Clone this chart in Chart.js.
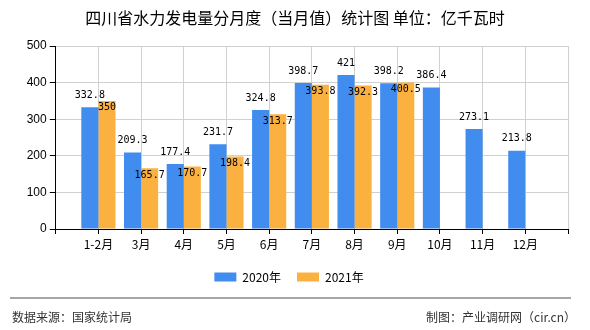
<!DOCTYPE html>
<html>
<head>
<meta charset="utf-8">
<script src="https://cdn.jsdelivr.net/npm/chart.js@4.4.0/dist/chart.umd.min.js"></script>
<style>
  html, body { margin: 0; padding: 0; background: #fff; }
  #wrap { position: relative; width: 590px; height: 330px; }
</style>
</head>
<body>
<div id="wrap"><canvas id="hydroChart" width="590" height="330"></canvas></div>
<script>
// 四川省水力发电量（亿千瓦时）
const categories = ['1-2月', '3月', '4月', '5月', '6月', '7月', '8月', '9月', '10月', '11月', '12月'];
const values2020 = [332.8, 209.3, 177.4, 231.7, 324.8, 398.7, 421, 398.2, 386.4, 273.1, 213.8];
const values2021 = [350, 165.7, 170.7, 198.4, 313.7, 393.8, 392.3, 400.5, null, null, null];
const seriesNames = ['2020年', '2021年'];
const yTicks = [0, 100, 200, 300, 400, 500];

const titleText = '四川省水力发电量分月度（当月值）统计图 单位：亿千瓦时';
const sourceText = '数据来源：国家统计局';
const makerText = '制图：产业调研网（cir.cn）';

const CJK = '"Noto Sans CJK SC", "DejaVu Sans", sans-serif';

// title, footer and value labels
const decorations = {
    id: 'decorations',
    beforeDraw(chart) {
        const ctx = chart.ctx;
        ctx.save();
        ctx.fillStyle = '#fff';
        ctx.fillRect(0, 0, chart.width, chart.height);
        ctx.restore();
    },
    afterDraw(chart) {
        const ctx = chart.ctx;
        ctx.save();
        ctx.fillStyle = '#000';
        ctx.font = '16px ' + CJK;
        ctx.textAlign = 'center';
        ctx.textBaseline = 'middle';
        ctx.fillText(titleText, 295, 18);

        ctx.strokeStyle = '#888';
        ctx.lineWidth = 1.5;
        ctx.beginPath();
        ctx.moveTo(10, 298);
        ctx.lineTo(571, 298);
        ctx.stroke();

        ctx.fillStyle = '#333';
        ctx.font = '12px ' + CJK;
        ctx.textAlign = 'left';
        ctx.fillText(sourceText, 12, 317);
        ctx.textAlign = 'right';
        ctx.fillText(makerText, 576, 317);
        ctx.restore();
    },
    afterDatasetsDraw(chart) {
        const ctx = chart.ctx;
        ctx.save();
        ctx.fillStyle = '#000';
        ctx.font = '10px "DejaVu Sans Mono", "Liberation Mono", monospace';
        ctx.textAlign = 'center';
        ctx.textBaseline = 'middle';
        chart.data.datasets.forEach((ds, di) => {
            const meta = chart.getDatasetMeta(di);
            meta.data.forEach((bar, i) => {
                const v = ds.data[i].y;
                if (v === null || v === undefined) return;
                const y = di === 0 ? bar.y - 12 : bar.y + 7;
                ctx.fillText(String(v), bar.x, y);
            });
        });
        ctx.restore();
    }
};

const ctx = document.getElementById('hydroChart').getContext('2d');
new Chart(ctx, {
    type: 'bar',
    data: {
        datasets: [
            {
                label: seriesNames[0],
                data: categories.map((c, i) => ({ x: i, y: values2020[i] })),
                backgroundColor: '#418DEF'
            },
            {
                label: seriesNames[1],
                data: categories.map((c, i) => ({ x: i, y: values2021[i] })),
                backgroundColor: '#FBB13F'
            }
        ]
    },
    options: {
        responsive: false,
        animation: false,
        categoryPercentage: 0.8,
        barPercentage: 1.0,
        layout: { padding: { left: 10, right: 22, top: 46, bottom: 37 } },
        plugins: {
            title: { display: false },
            tooltip: { enabled: false },
            legend: {
                position: 'bottom',
                labels: {
                    boxWidth: 22,
                    boxHeight: 9,
                    padding: 16,
                    color: '#000',
                    font: { size: 12, family: CJK }
                }
            }
        },
        scales: {
            x: {
                type: 'linear',
                min: -1,
                max: categories.length,
                offset: false,
                grid: { offset: false, color: '#d0d0d0', tickColor: '#000', tickLength: 5 },
                border: { color: '#000', width: 1 },
                ticks: {
                    stepSize: 1,
                    autoSkip: false,
                    maxRotation: 0,
                    padding: 3,
                    color: '#000',
                    font: { size: 12, family: CJK },
                    callback: v => categories[v] || ''
                },
                afterFit: s => { s.height = 26; }
            },
            y: {
                min: 0,
                max: yTicks[yTicks.length - 1],
                grid: { color: '#d0d0d0', tickColor: '#000', tickLength: 6 },
                border: { color: '#000', width: 1 },
                afterBuildTicks: s => { s.ticks = yTicks.map(v => ({ value: v })); },
                ticks: {
                    padding: 3,
                    color: '#000',
                    font: { size: 12, family: '"Liberation Sans", Arial, sans-serif' }
                },
                afterFit: s => { s.width = 45.7; }
            }
        }
    },
    plugins: [decorations]
});
</script>
</body>
</html>
